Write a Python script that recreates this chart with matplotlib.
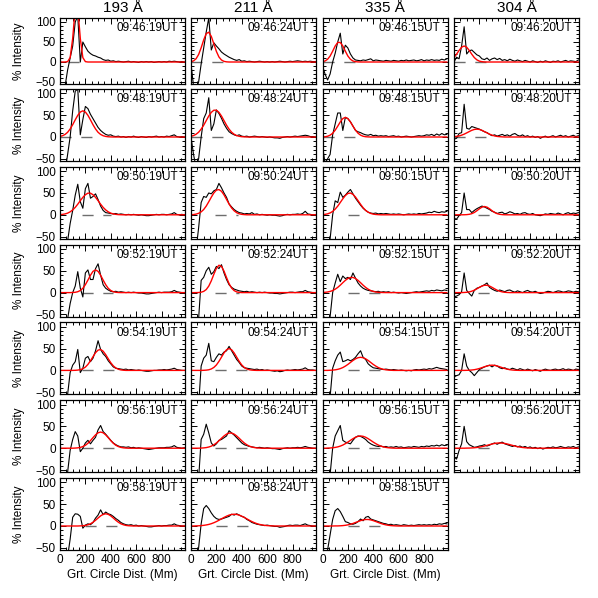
import matplotlib
matplotlib.use('Agg')
import matplotlib.pyplot as plt
from matplotlib.ticker import MultipleLocator

plt.rcParams['font.family'] = ['Liberation Sans', 'DejaVu Sans']

# great-circle distance grid (Mm)
dist = [0, 20, 40, 60, 80, 100, 120, 140, 160, 180,
        200, 220, 240, 260, 280, 300, 320, 340, 360, 380,
        400, 420, 440, 460, 480, 500, 520, 540, 560, 580,
        600, 620, 640, 660, 680, 700, 720, 740, 760, 780,
        800, 820, 840, 860, 880, 900, 920, 940, 960, 980]

channels = ['193 Å', '211 Å', '335 Å', '304 Å']

times_193 = ['09:46:19UT', '09:48:19UT', '09:50:19UT', '09:52:19UT', '09:54:19UT', '09:56:19UT', '09:58:19UT']
times_211 = ['09:46:24UT', '09:48:24UT', '09:50:24UT', '09:52:24UT', '09:54:24UT', '09:56:24UT', '09:58:24UT']
times_335 = ['09:46:15UT', '09:48:15UT', '09:50:15UT', '09:52:15UT', '09:54:15UT', '09:56:15UT', '09:58:15UT']
times_304 = ['09:46:20UT', '09:48:20UT', '09:50:20UT', '09:52:20UT', '09:54:20UT', '09:56:20UT']

# measured % intensity profiles (black)
black_193 = [
    [-80, -80, -60, -20, 10, 40, 100, 115, 0, 50, 38, 27, 21, 17, 15, 12, 10, 6, 4, 5,
     2, 3, 1, 2, 1, 0, 1, 2, 0, 1, 0, -1, 1, 0, 1, 0, 1, -1, 0, 1, 0, 1, 0, 2, 1, 2, 1, 0, 1, 0],
    [-80, -80, -80, -40, 0, 60, 105, 110, 5, 40, 70, 65, 52, 42, 32, 22, 15, 10, 6, 4,
     5, 2, 1, 2, 0, 1, -1, 1, 0, 2, 0, -1, 1, 0, -1, 1, 0, 1, 2, 0, 1, 0, 2, 1, 3, 5, 1, 0, 1, 0],
    [-80, -80, -80, -60, -20, 10, 45, 70, 30, 15, 60, 72, 38, 42, 48, 35, 20, 10, 5, 4,
     3, 2, 3, 1, 2, 1, 0, 1, 0, 1, 0, -1, 0, -1, -2, -2, -1, 0, 1, 0, 1, 1, 0, 1, 2, 5, 1, 0, 1, 0],
    [-80, -80, -80, -60, -25, 0, 15, 48, 10, -10, 45, 52, 30, 30, 55, 66, 40, 18, 10, 6,
     3, 2, 3, 1, 2, 1, 0, 1, 0, 1, 0, -1, -1, -2, -3, -3, -2, -1, 0, 1, 0, 1, 1, 1, 2, 5, 2, 1, 0, 0],
    [-80, -80, -80, -55, -5, 12, 20, 48, -5, 5, 28, 32, 20, 28, 45, 68, 48, 38, 32, 22,
     15, 8, 5, 4, 3, 2, 3, 1, 2, 1, 0, 1, 0, -1, -2, -2, -1, 0, 0, 1, 1, 2, 1, 2, 3, 5, 2, 1, 0, 0],
    [-80, -80, -80, -55, -5, 20, 38, 28, -8, 0, 12, 18, 10, 18, 25, 42, 52, 38, 32, 25,
     18, 12, 8, 5, 3, 3, 2, 3, 1, 2, 0, 1, 0, -1, -2, -3, -2, -1, 0, 1, 1, 1, 2, 2, 3, 6, 2, 1, 0, 1],
    [-80, -80, -80, -70, -30, 20, 28, 27, 22, -5, 2, 5, 3, 8, 18, 25, 37, 26, 32, 28,
     26, 22, 17, 13, 8, 5, 3, 2, 3, 1, 2, 0, 1, 0, -1, -2, -2, -1, 0, 1, 0, 1, 1, 2, 2, 5, 2, 1, 0, 0],
]
black_211 = [
    [-5, -60, -70, -50, -5, 35, 75, 110, 30, 48, 40, 33, 25, 20, 16, 12, 9, 6, 4, 6,
     2, 3, 1, 2, 1, 0, 1, 2, 1, 0, 1, 0, 1, 0, 1, 2, 1, 0, 1, 2, 1, 2, 3, 2, 1, 2, 1, 2, 1, 1],
    [0, -40, -70, -50, 0, 42, 55, 90, 15, 30, 62, 54, 43, 30, 20, 12, 8, 5, 3, 5,
     2, 1, 2, 0, 1, 2, 1, 0, 1, 0, -1, 0, -1, -2, -2, -3, -1, 0, 1, 0, 1, 2, 1, 2, 3, 4, 3, 1, 1, 0],
    [-80, -80, -80, -30, 28, 42, 40, 50, 48, 55, 58, 72, 62, 50, 40, 25, 18, 12, 8, 5,
     4, 2, 3, 2, 5, 1, 2, 0, 1, 0, -1, 0, -1, -1, -2, -3, -2, 0, 1, 0, 1, 1, 2, 1, 3, 8, 2, 1, 0, 0],
    [-80, -80, -80, -60, 28, 35, 50, 58, 42, 48, 60, 55, 64, 45, 30, 18, 12, 8, 6, 4,
     3, 2, 3, 1, 2, 1, 0, 1, 0, 1, 0, -1, -1, -2, -2, -3, -2, -1, 0, 1, 1, 0, 1, 2, 2, 5, 2, 1, 0, 0],
    [-80, -80, -80, -80, 10, 28, 35, 62, 22, 20, 30, 38, 35, 42, 45, 55, 45, 35, 25, 18,
     10, 6, 5, 4, 3, 2, 3, 1, 2, 0, 1, 0, -1, -2, -1, -3, -2, 0, 1, 0, 1, 2, 1, 2, 3, 6, 2, 1, 1, 0],
    [-80, -80, -80, -70, 20, 32, 55, 35, 12, 5, 10, 18, 20, 24, 28, 40, 35, 30, 24, 18,
     12, 8, 6, 4, 3, 2, 1, 2, 1, 0, 1, 0, -1, -1, -2, -3, -1, 0, 1, 0, 1, 1, 2, 1, 2, 4, 2, 1, 0, 0],
    [-80, -80, -80, -50, 5, 40, 47, 40, 30, 22, 17, 15, 16, 18, 20, 22, 27, 25, 28, 25,
     22, 20, 15, 12, 8, 6, 4, 3, 2, 1, 2, 1, 0, -1, -1, -3, -2, -1, 1, 2, 1, 2, 2, 1, 3, 5, 2, 1, 0, 0],
]
black_335 = [
    [-10, -30, -45, -30, 0, 22, 50, 72, 20, 42, 35, 20, 10, 5, 4, 3, 5, 4, 6, 8,
     3, 5, 4, 3, 2, 4, 3, 2, 4, 3, 2, 4, 3, 5, 3, 4, 5, 3, 4, 6, 3, 5, 4, 6, 4, 5, 4, 7, 5, 8],
    [-20, -60, -50, -40, 5, 30, 55, 55, 15, 45, 42, 35, 25, 15, 12, 10, 7, 5, 4, 6,
     3, 4, 2, 3, 2, 3, 1, 2, 3, 1, 2, 0, 1, 2, 1, 0, 1, 2, 3, 2, 3, 5, 4, 6, 3, 7, 4, 8, 5, 6],
    [-50, -60, -60, -55, 0, 32, 28, 52, 40, 45, 52, 58, 48, 38, 30, 22, 15, 10, 6, 4,
     3, 4, 2, 3, 2, 3, 2, 1, 2, 1, 2, 1, 0, 1, 2, 1, 2, 1, 3, 2, 3, 4, 6, 5, 8, 6, 5, 7, 6, 8],
    [-50, -60, -60, -55, 0, 22, 42, 25, 38, 32, 35, 30, 45, 33, 22, 15, 10, 7, 5, 4,
     3, 2, 3, 1, 2, 1, 2, 0, 1, 0, -1, 0, -1, -2, -1, 0, 1, 2, 1, 2, 3, 4, 3, 5, 4, 6, 5, 4, 6, 5],
    [-80, -80, -80, -60, 5, 22, 35, 42, 20, 22, 25, 22, 25, 30, 38, 45, 30, 25, 15, 10,
     6, 5, 4, 3, 2, 3, 2, 1, 2, 1, 0, 1, 0, -1, 0, -1, 1, 2, 1, 2, 3, 2, 4, 3, 5, 7, 5, 4, 3, 2],
    [-80, -80, -80, -60, 0, 28, 40, 52, 18, 14, 12, 10, 18, 25, 28, 27, 24, 20, 14, 10,
     7, 5, 4, 5, 3, 4, 2, 3, 2, 4, 2, 3, 1, 2, 3, 2, 4, 3, 2, 4, 3, 5, 4, 6, 5, 7, 5, 8, 6, 7],
    [-55, -60, -55, -20, 15, 35, 40, 33, 22, 10, 8, 5, 4, 6, 10, 16, 12, 20, 22, 16,
     14, 12, 10, 8, 6, 5, 3, 4, 2, 3, 2, 1, 3, 2, 1, 2, 1, 2, 3, 2, 3, 2, 3, 2, 4, 3, 5, 4, 6, 5],
]
black_304 = [
    [0, 12, 8, 40, 88, 20, 28, 30, 24, 18, 15, 8, 6, 10, 4, 8, 10, 6, 9, 4,
     6, 3, 7, 4, 2, 5, 3, 1, 4, 2, 0, 3, 1, -1, 2, 0, 3, 1, -1, 2, 1, 3, 0, 2, 4, 1, 3, 2, 1, 5],
    [-5, -3, 8, 10, 75, 20, 18, 24, 22, 20, 18, 15, 12, 10, 6, 3, 5, 2, 4, 6,
     3, 5, 2, 6, 8, 4, 2, 5, 1, 3, 0, 2, -1, 1, -3, 0, 2, -1, 1, 3, 0, 2, 4, 1, 3, 0, 2, 4, 1, 3],
    [-8, -10, -2, 5, 50, 12, 12, 5, 10, 14, 17, 20, 18, 15, 12, 8, 6, 3, 5, 6,
     2, 4, 7, 5, 2, 3, 1, 4, 5, 2, 1, 3, 0, -1, -2, 0, 2, 1, 3, 2, 1, 4, 2, 0, 3, 5, 2, 4, 3, 5],
    [-10, -8, -5, 2, 45, 5, -2, -8, 5, 10, 12, 15, 18, 22, 12, 8, 5, 3, 6, 4,
     2, 5, 6, 3, 1, 4, 2, 0, 3, 5, 2, 1, 3, 0, -2, -1, 1, 3, 2, 0, 2, 4, 3, 1, 2, 4, 3, 1, 3, 2],
    [-15, -12, -10, 0, 38, 10, 0, -5, -12, -5, 2, 5, 8, 10, 12, 8, 12, 10, 6, 4,
     6, 3, 2, 5, 3, 1, 4, 2, 0, 3, 1, -1, 2, 0, -2, 1, 3, 1, 0, 2, 3, 1, 2, 4, 1, 3, 2, 0, 3, 2],
    [-20, -25, -5, 10, 50, 15, 8, 5, 2, 3, 5, 6, 8, 5, 7, 10, 12, 9, 12, 14,
     10, 8, 6, 4, 6, 3, 5, 2, 4, 1, 3, 0, 2, -1, 1, -2, 0, 2, 1, 3, 1, 2, 4, 2, 1, 3, 2, 4, 1, 3],
]

# gaussian fits (red)
red_193 = [
    [0, 0, 0, 0.9, 11, 59, 135, 135, 59, 11, 0.9, 0, 0, 0, 0, 0, 0, 0, 0, 0,
     0, 0, 0, 0, 0, 0, 0, 0, 0, 0, 0, 0, 0, 0, 0, 0, 0, 0, 0, 0, 0, 0, 0, 0, 0, 0, 0, 0, 0, 0],
    [1.3, 2.9, 5.9, 10.8, 18.4, 28.2, 39.3, 49.7, 57.2, 60, 57.2, 49.7, 39.3, 28.2, 18.4, 10.8, 5.9, 2.9, 1.3, 0.5,
     0.2, 0, 0, 0, 0, 0, 0, 0, 0, 0, 0, 0, 0, 0, 0, 0, 0, 0, 0, 0, 0, 0, 0, 0, 0, 0, 0, 0, 0, 0],
    [0.4, 1.0, 2.0, 3.8, 6.8, 11.2, 17, 24.3, 32.4, 40, 46, 49.6, 49.6, 46, 40, 32.4, 24.3, 17, 11.2, 6.8,
     3.8, 2.0, 1.0, 0.4, 0.2, 0, 0, 0, 0, 0, 0, 0, 0, 0, 0, 0, 0, 0, 0, 0, 0, 0, 0, 0, 0, 0, 0, 0, 0, 0],
    [0, 0, 0, 0, 0, 0.2, 0.7, 2.0, 4.8, 9.9, 18.2, 28.7, 39.8, 48.7, 52, 48.7, 39.8, 28.7, 18.2, 9.9,
     4.8, 2.0, 0.7, 0.2, 0, 0, 0, 0, 0, 0, 0, 0, 0, 0, 0, 0, 0, 0, 0, 0, 0, 0, 0, 0, 0, 0, 0, 0, 0, 0],
    [0, 0, 0, 0, 0, 0, 0.2, 0.7, 1.7, 3.8, 7.6, 13.7, 22, 31.4, 40.6, 46.5, 47.8, 44, 36.2, 26.7,
     17.6, 10.4, 5.5, 2.6, 1.1, 0.4, 0, 0, 0, 0, 0, 0, 0, 0, 0, 0, 0, 0, 0, 0, 0, 0, 0, 0, 0, 0, 0, 0, 0, 0],
    [0, 0, 0, 0, 0, 0, 0.3, 0.8, 1.8, 3.7, 6.7, 11.3, 17.4, 24.2, 30.6, 35.3, 37, 35.3, 30.6, 24.2,
     17.4, 11.3, 6.7, 3.7, 1.8, 0.8, 0.3, 0, 0, 0, 0, 0, 0, 0, 0, 0, 0, 0, 0, 0, 0, 0, 0, 0, 0, 0, 0, 0, 0, 0],
    [0, 0, 0, 0, 0, 0, 0, 0, 0.3, 0.6, 1.3, 2.8, 5.0, 8.6, 13.1, 18.3, 23.2, 26.7, 28, 26.7,
     23.2, 18.3, 13.1, 8.6, 5.0, 2.8, 1.3, 0.6, 0.3, 0, 0, 0, 0, 0, 0, 0, 0, 0, 0, 0, 0, 0, 0, 0, 0, 0, 0, 0, 0, 0],
]
red_211 = [
    [0.8, 2.8, 8.1, 18.7, 35.6, 55.3, 71, 74.5, 64.1, 45.5, 26.6, 12.6, 5.0, 1.6, 0.4, 0, 0, 0, 0, 0,
     0, 0, 0, 0, 0, 0, 0, 0, 0, 0, 0, 0, 0, 0, 0, 0, 0, 0, 0, 0, 0, 0, 0, 0, 0, 0, 0, 0, 0, 0],
    [1.6, 3.3, 6.3, 11, 18, 27, 37.6, 48.1, 56.5, 61.4, 61.4, 56.5, 48.1, 37.6, 27, 18, 11, 6.3, 3.3, 1.6,
     0.7, 0.3, 0, 0, 0, 0, 0, 0, 0, 0, 0, 0, 0, 0, 0, 0, 0, 0, 0, 0, 0, 0, 0, 0, 0, 0, 0, 0, 0, 0],
    [0.2, 0.6, 1.6, 3.4, 6.7, 12.1, 20, 29.9, 40.4, 50.1, 56.5, 57.8, 53.9, 45.7, 35.2, 24.6, 15.7, 9.2, 4.8, 2.3,
     1.0, 0.4, 0, 0, 0, 0, 0, 0, 0, 0, 0, 0, 0, 0, 0, 0, 0, 0, 0, 0, 0, 0, 0, 0, 0, 0, 0, 0, 0, 0],
    [0, 0, 0, 0.2, 0.9, 2.8, 7, 14.9, 27, 42, 55.6, 62.7, 60.2, 49.3, 34.4, 20.5, 10.4, 4.5, 1.6, 0.5,
     0, 0, 0, 0, 0, 0, 0, 0, 0, 0, 0, 0, 0, 0, 0, 0, 0, 0, 0, 0, 0, 0, 0, 0, 0, 0, 0, 0, 0, 0],
    [0, 0, 0, 0, 0, 0.2, 0.6, 1.4, 3.3, 6.8, 12.4, 20.6, 30.3, 40, 47.3, 50, 47.3, 40, 30.3, 20.6,
     12.4, 6.8, 3.3, 1.4, 0.6, 0.2, 0, 0, 0, 0, 0, 0, 0, 0, 0, 0, 0, 0, 0, 0, 0, 0, 0, 0, 0, 0, 0, 0, 0, 0],
    [0, 0, 0, 0, 0.3, 0.7, 1.4, 2.7, 4.7, 7.8, 11.9, 17, 22.7, 28, 32.3, 34.7, 34.7, 32.3, 28, 22.7,
     17, 11.9, 7.8, 4.7, 2.7, 1.4, 0.7, 0.3, 0, 0, 0, 0, 0, 0, 0, 0, 0, 0, 0, 0, 0, 0, 0, 0, 0, 0, 0, 0, 0, 0],
    [0, 0, 0.3, 0.5, 0.9, 1.5, 2.4, 3.6, 5.3, 7.5, 10.1, 13.1, 16.4, 19.6, 22.5, 24.9, 26.5, 27, 26.5, 24.9,
     22.5, 19.6, 16.4, 13.1, 10.1, 7.5, 5.3, 3.6, 2.4, 1.5, 0.9, 0.5, 0.3, 0, 0, 0, 0, 0, 0, 0, 0, 0, 0, 0, 0, 0, 0, 0, 0, 0],
]
red_335 = [
    [0.8, 2.5, 6.8, 14.9, 27, 40, 48.8, 48.8, 40, 27, 14.9, 6.8, 2.5, 0.8, 0.2, 0, 0, 0, 0, 0,
     0, 0, 0, 0, 0, 0, 0, 0, 0, 0, 0, 0, 0, 0, 0, 0, 0, 0, 0, 0, 0, 0, 0, 0, 0, 0, 0, 0, 0, 0],
    [0.2, 0.6, 1.7, 4.2, 8.6, 15.7, 24.8, 34.5, 42.2, 45, 42.2, 34.5, 24.8, 15.7, 8.6, 4.2, 1.7, 0.6, 0.2, 0,
     0, 0, 0, 0, 0, 0, 0, 0, 0, 0, 0, 0, 0, 0, 0, 0, 0, 0, 0, 0, 0, 0, 0, 0, 0, 0, 0, 0, 0, 0],
    [0.4, 1.0, 2.2, 4.3, 7.8, 13, 19.9, 28.2, 36.6, 44.1, 48.9, 49.9, 46.9, 40.7, 32.4, 24, 16.2, 10.1, 5.9, 3.1,
     1.5, 0.7, 0.3, 0, 0, 0, 0, 0, 0, 0, 0, 0, 0, 0, 0, 0, 0, 0, 0, 0, 0, 0, 0, 0, 0, 0, 0, 0, 0, 0],
    [0.3, 0.7, 1.4, 2.7, 4.7, 7.8, 11.9, 17, 22.7, 28, 32.3, 34.7, 34.7, 32.3, 28, 22.7, 17, 11.9, 7.8, 4.7,
     2.7, 1.4, 0.7, 0.3, 0.1, 0, 0, 0, 0, 0, 0, 0, 0, 0, 0, 0, 0, 0, 0, 0, 0, 0, 0, 0, 0, 0, 0, 0, 0, 0],
    [0, 0, 0, 0.3, 0.7, 1.3, 2.4, 4.1, 6.5, 9.8, 13.7, 18.2, 22.7, 26.5, 29.1, 30, 29.1, 26.5, 22.7, 18.2,
     13.7, 9.8, 6.5, 4.1, 2.4, 1.3, 0.7, 0.3, 0, 0, 0, 0, 0, 0, 0, 0, 0, 0, 0, 0, 0, 0, 0, 0, 0, 0, 0, 0, 0, 0],
    [0, 0, 0.3, 0.5, 1.0, 1.8, 3.0, 4.8, 7.2, 10.4, 14, 18, 21.8, 25.1, 27.2, 28, 27.2, 25.1, 21.8, 18,
     14, 10.4, 7.2, 4.8, 3.0, 1.8, 1.0, 0.5, 0.2, 0, 0, 0, 0, 0, 0, 0, 0, 0, 0, 0, 0, 0, 0, 0, 0, 0, 0, 0, 0, 0],
    [0, 0, 0, 0, 0, 0.2, 0.2, 0.5, 0.9, 1.6, 2.6, 4.0, 5.8, 8.0, 10.2, 12.3, 14.0, 14.9, 14.9, 14.0,
     12.3, 10.2, 8.0, 5.8, 4.0, 2.6, 1.6, 0.9, 0.5, 0.2, 0, 0, 0, 0, 0, 0, 0, 0, 0, 0, 0, 0, 0, 0, 0, 0, 0, 0, 0, 0],
]
red_304 = [
    [11.1, 19.5, 29, 36.9, 40, 36.9, 29, 19.5, 11.1, 5.4, 2.2, 0.8, 0.2, 0, 0, 0, 0, 0, 0, 0,
     0, 0, 0, 0, 0, 0, 0, 0, 0, 0, 0, 0, 0, 0, 0, 0, 0, 0, 0, 0, 0, 0, 0, 0, 0, 0, 0, 0, 0, 0],
    [0.7, 1.3, 2.4, 4.2, 6.5, 9.4, 12.4, 15.3, 17.3, 18, 17.3, 15.3, 12.4, 9.4, 6.5, 4.2, 2.4, 1.3, 0.7, 0.3,
     0, 0, 0, 0, 0, 0, 0, 0, 0, 0, 0, 0, 0, 0, 0, 0, 0, 0, 0, 0, 0, 0, 0, 0, 0, 0, 0, 0, 0, 0],
    [0, 0, 0, 0, 0.1, 0.4, 1.1, 2.6, 5.3, 9.3, 13.8, 17.5, 19, 17.5, 13.8, 9.3, 5.3, 2.6, 1.1, 0.4,
     0.1, 0, 0, 0, 0, 0, 0, 0, 0, 0, 0, 0, 0, 0, 0, 0, 0, 0, 0, 0, 0, 0, 0, 0, 0, 0, 0, 0, 0, 0],
    [0, 0, 0, 0, 0.3, 0.7, 1.6, 3.2, 5.5, 8.6, 12, 15, 16.8, 16.8, 15, 12, 8.6, 5.5, 3.2, 1.6,
     0.7, 0.3, 0, 0, 0, 0, 0, 0, 0, 0, 0, 0, 0, 0, 0, 0, 0, 0, 0, 0, 0, 0, 0, 0, 0, 0, 0, 0, 0, 0],
    [0, 0, 0, 0, 0, 0.2, 0.4, 0.9, 1.6, 2.8, 4.3, 6.3, 8.3, 10.2, 11.5, 12, 11.5, 10.2, 8.3, 6.3,
     4.3, 2.8, 1.6, 0.9, 0.4, 0.2, 0, 0, 0, 0, 0, 0, 0, 0, 0, 0, 0, 0, 0, 0, 0, 0, 0, 0, 0, 0, 0, 0, 0, 0],
    [0, 0, 0, 0, 0, 0.2, 0.3, 0.6, 1.0, 1.6, 2.5, 3.6, 4.9, 6.5, 8.1, 9.6, 10.9, 11.7, 12, 11.7,
     10.9, 9.6, 8.1, 6.5, 4.9, 3.6, 2.5, 1.6, 1.0, 0.6, 0.3, 0.2, 0, 0, 0, 0, 0, 0, 0, 0, 0, 0, 0, 0, 0, 0, 0, 0, 0, 0],
]

# extent of the dashed zero-level marker (Mm)
span_193 = [(60, 200), (0, 280), (176, 400), (175, 415), (175, 465), (175, 465), (200, 470)]
span_211 = [(0, 280), (0, 280), (190, 370), (190, 380), (190, 470), (190, 470), (200, 470)]
span_335 = [(0, 280), (0, 280), (200, 290), (200, 460), (200, 470), (200, 470), (200, 470)]
span_304 = [(0, 290), (0, 290), (190, 290), (190, 290), (190, 290), (190, 290)]

columns = [
    (channels[0], black_193, red_193, times_193, span_193),
    (channels[1], black_211, red_211, times_211, span_211),
    (channels[2], black_335, red_335, times_335, span_335),
    (channels[3], black_304, red_304, times_304, span_304),
]

W = 598.0
col_left = [60, 191, 322.5, 454]
col_w = 125
row_top = [18, 89, 166.8, 244.6, 322.4, 400.2, 478]
row_h = [66, 72, 72, 72, 72, 72, 72]

fig = plt.figure(figsize=(5.98, 5.98), dpi=100)

for c, (name, blacks, reds, times, spans) in enumerate(columns):
    fig.text((col_left[c] + col_w / 2) / W, 1 - 8 / W, name,
             ha='center', va='center', fontsize=11)
    for r in range(len(blacks)):
        assert len(blacks[r]) == len(dist) and len(reds[r]) == len(dist), (c, r)
        ax = fig.add_axes([col_left[c] / W, 1 - (row_top[r] + row_h[r]) / W,
                           col_w / W, row_h[r] / W])
        ax.plot(list(spans[r]), [0, 0], color='#6e6e6e', lw=1.0, ls=(0, (8, 7)))
        ax.plot(dist, blacks[r], color='black', lw=0.8)
        ax.plot(dist, reds[r], color='#ff0000', lw=1.0)
        ax.set_xlim(0, 985)
        ax.set_ylim(-55, 110)
        ax.xaxis.set_major_locator(MultipleLocator(200))
        ax.xaxis.set_minor_locator(MultipleLocator(50))
        ax.yaxis.set_major_locator(MultipleLocator(50))
        ax.yaxis.set_minor_locator(MultipleLocator(10))
        ax.tick_params(which='both', direction='in', top=True, right=True,
                       width=0.7, labelsize=8.5, pad=3)
        ax.tick_params(which='major', length=4)
        ax.tick_params(which='minor', length=2)
        for sp in ax.spines.values():
            sp.set_linewidth(0.9)
        ax.annotate(times[r], xy=(1, 1), xycoords='axes fraction',
                    xytext=(-5, -7.5), textcoords='offset points',
                    ha='right', va='center', fontsize=8.5)
        if c == 0:
            ax.set_ylabel('% Intensity', fontsize=8.5)
            ax.yaxis.set_label_coords(-0.28, 0.5)
        else:
            ax.tick_params(labelleft=False)
        if r == len(blacks) - 1 and c < 3:
            ax.set_xlabel('Grt. Circle Dist. (Mm)', fontsize=8.5, labelpad=2)
        else:
            ax.tick_params(labelbottom=False)

fig.savefig('out.png', dpi=100)
